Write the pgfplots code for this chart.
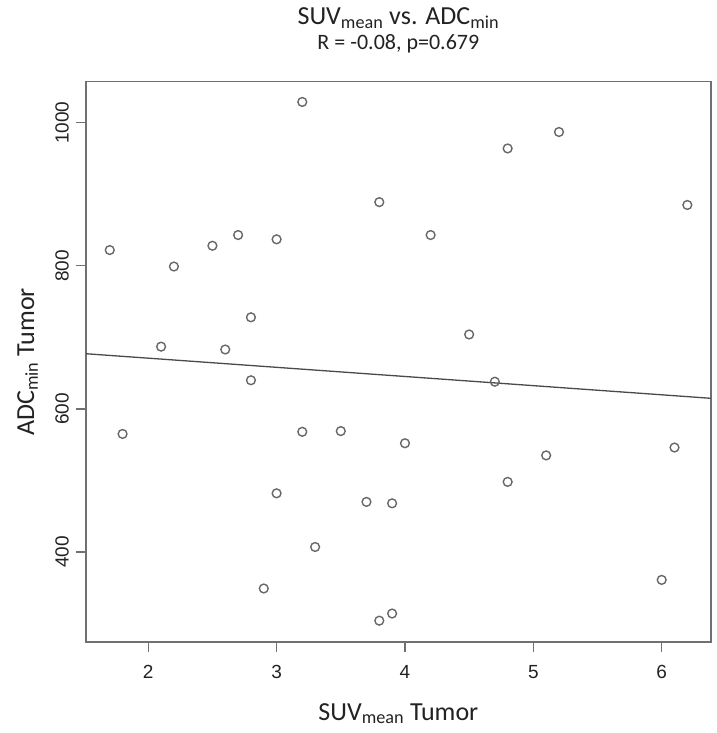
\documentclass[border=0pt]{standalone}
\usepackage{fontspec}
\setmainfont{Carlito}
\newfontfamily\arialf{Liberation Sans}
\usepackage{pgfplots}
\pgfplotsset{compat=1.18}
\definecolor{axgray}{HTML}{707070}
\definecolor{ptgray}{HTML}{686868}
\definecolor{lngray}{HTML}{4A4A4A}
\definecolor{txt}{HTML}{222222}
\begin{document}
\begin{tikzpicture}
\useasboundingbox (-86pt,-91pt) rectangle (630pt,642pt);
\begin{axis}[
  scale only axis, width=624.7pt, height=560.3pt,
  xmin=1.515, xmax=6.382, ymin=274.2, ymax=1057.3,
  axis line style={axgray, line width=1.6pt},
  xtick={2,3,4,5,6}, ytick={400,600,800,1000},
  xtick pos=bottom, ytick pos=left,
  tick align=outside, major tick length=10pt,
  tick style={axgray, line width=1.3pt},
  /pgf/number format/assume math mode=true,
  /pgf/number format/1000 sep={},
  ticklabel style={font=\arialf\fontsize{19}{22}\selectfont, text=txt},
  xticklabel style={anchor=north, inner sep=13pt},
  yticklabel style={rotate=90, anchor=south, inner sep=7pt},
  xlabel={SUV\textsubscript{mean} Tumor},
  ylabel={ADC\textsubscript{min} Tumor},
  label style={font=\fontsize{26}{30}\selectfont, text=txt, inner sep=0pt},
  xlabel style={at={(axis description cs:0.5,-0.1089)}, anchor=north},
  ylabel style={at={(axis description cs:-0.1105,0.5)}, anchor=north, rotate=0},
  clip=false,
]
\addplot[only marks, mark=o, mark size=4.4pt, mark options={ptgray, line width=1.4pt}] coordinates {
(1.7,822) (1.8,565) (2.1,687) (2.2,799) (2.5,828) (2.6,683) (2.7,843)
(2.8,728) (2.8,640) (2.9,349) (3.0,837) (3.0,482) (3.2,1029) (3.2,568)
(3.3,407) (3.5,569) (3.7,470) (3.8,889) (3.8,304) (3.9,468) (3.9,314)
(4.0,552) (4.2,843) (4.5,704) (4.7,638) (4.8,964) (4.8,498) (5.1,535)
(5.2,987) (6.0,361) (6.1,546) (6.2,885)
};
\addplot[lngray, line width=1.3pt] coordinates {(1.515,677.1) (6.382,614.8)};
\node[anchor=base, font=\fontsize{26}{30}\selectfont, text=txt] at (axis description cs:0.5,1.102) {SUV\textsubscript{mean} vs. ADC\textsubscript{min}};
\node[anchor=base, font=\fontsize{22}{26}\selectfont, text=txt] at (axis description cs:0.5,1.0566) {R = -0.08, p=0.679};
\end{axis}
\end{tikzpicture}
\end{document}
